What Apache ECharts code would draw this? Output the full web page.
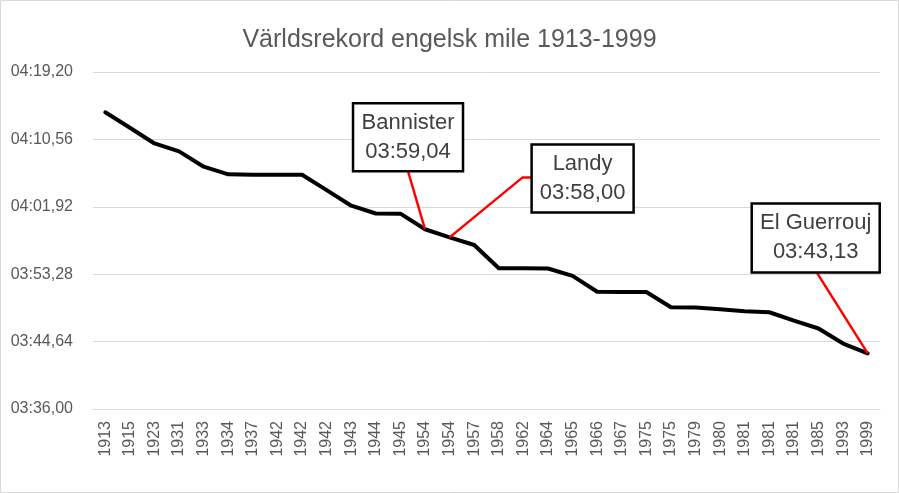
<!DOCTYPE html>
<html>
<head>
<meta charset="utf-8">
<script src="https://cdn.jsdelivr.net/npm/echarts@6/dist/echarts.min.js"></script>
<style>
  html, body { margin: 0; padding: 0; background: #fff; }
  #chart { width: 899px; height: 493px; }
</style>
</head>
<body>
<div id="chart"></div>
<script>
// Record years (category axis) and record times in seconds
var years = ['1913', '1915', '1923', '1931', '1933', '1934', '1937', '1942', '1942', '1942',
  '1943', '1944', '1945', '1954', '1954', '1957', '1958', '1962', '1964', '1965',
  '1966', '1967', '1975', '1975', '1979', '1980', '1981', '1981', '1981', '1985',
  '1993', '1999'];
var times = [254.04, 252.06, 250.04, 249.02, 247.06, 246.08, 246.04, 246.02, 246.02, 244.06,
  242.06, 241.06, 241.04, 239.04, 238.00, 237.02, 234.05, 234.04, 234.01, 233.06,
  231.03, 231.01, 231.00, 229.04, 229.00, 228.80, 228.53, 228.40, 227.33, 226.32,
  224.39, 223.13];

// Annotated records
var noteIdx = [13, 14, 31];
var noteNames = ['Bannister', 'Landy', 'El Guerrouj'];

var axisMin = 216, axisMax = 259.2, axisStep = 8.64;

var font = '"Liberation Sans", Arial, sans-serif';
var grey = '#595959';

function pad(n) { return (n < 10 ? '0' : '') + n; }
function fmt(v) {
  var c = Math.round(v * 100);
  var m = Math.floor(c / 6000);
  var s = Math.floor((c % 6000) / 100);
  return pad(m) + ':' + pad(s) + ',' + pad(c % 100);
}

var chart = echarts.init(document.getElementById('chart'), null, { renderer: 'canvas' });
chart.setOption({
  animation: false,
  backgroundColor: '#fff',
  title: {
    text: 'Världsrekord engelsk mile 1913-1999',
    left: 'center', top: 23,
    textStyle: { fontFamily: font, fontSize: 25, fontWeight: 'normal', color: grey }
  },
  grid: { left: 93, right: 19, top: 72, bottom: 84 },
  xAxis: {
    type: 'category', data: years,
    axisLine: { lineStyle: { color: '#d9d9d9' } },
    axisTick: { show: false },
    axisLabel: { rotate: 90, interval: 0, margin: 12, color: grey, fontFamily: font, fontSize: 16 }
  },
  yAxis: {
    type: 'value', min: axisMin, max: axisMax, interval: axisStep,
    axisLine: { show: false }, axisTick: { show: false },
    splitLine: { lineStyle: { color: '#d9d9d9', width: 1 } },
    axisLabel: { margin: 20, color: grey, fontFamily: font, fontSize: 16, formatter: fmt }
  },
  series: [{
    type: 'line', data: times, symbol: 'none',
    lineStyle: { color: '#000', width: 4, join: 'round', cap: 'round' }
  }]
});

// annotation layout, offsets relative to the data point
var boxes = [
  { x: -72, y: -126, w: 110, h: 68, lead: [[-17, -58]] },
  { x: 82, y: -93, w: 102, h: 68, lead: [[82, -60], [73, -60]] },
  { x: -116, y: -150, w: 128, h: 69, lead: [[-51, -81]] }
];

var gfx = [{
  type: 'rect', shape: { x: 0.5, y: 0.5, width: 898, height: 492 },
  style: { fill: 'none', stroke: '#d9d9d9', lineWidth: 1 }, z: 0, silent: true
}];
noteIdx.forEach(function(idx, k) {
  var p = chart.convertToPixel({ seriesIndex: 0 }, [idx, times[idx]]);
  var b = boxes[k];
  var pts = b.lead.map(function(o) { return [p[0] + o[0], p[1] + o[1]]; });
  pts.push([p[0], p[1]]);
  gfx.push({
    type: 'polyline', shape: { points: pts },
    style: { stroke: '#ff0000', lineWidth: 2.5, fill: 'none' }, z: 10, silent: true
  });
  gfx.push({
    type: 'rect', shape: { x: p[0] + b.x, y: p[1] + b.y, width: b.w, height: b.h },
    style: { fill: '#fff', stroke: '#000', lineWidth: 2.5 }, z: 11, silent: true
  });
  gfx.push({
    type: 'text', x: p[0] + b.x + b.w / 2, y: p[1] + b.y + b.h / 2, z: 12, silent: true,
    style: {
      text: noteNames[k] + '\n' + fmt(times[idx]),
      fill: '#404040', font: '22px ' + font, lineHeight: 29,
      align: 'center', verticalAlign: 'middle'
    }
  });
});
chart.setOption({ graphic: gfx });
</script>
</body>
</html>
